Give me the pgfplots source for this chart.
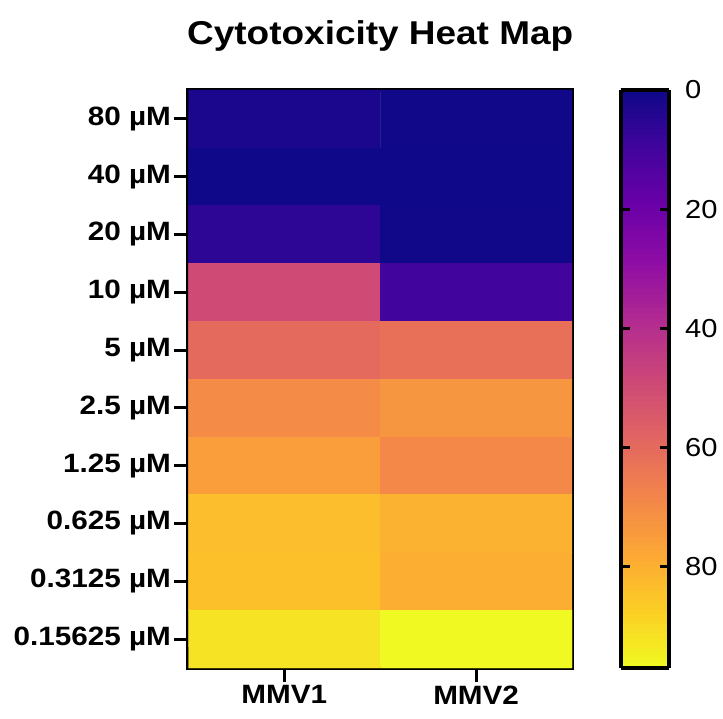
\documentclass[border=0pt]{standalone}
\usepackage{fontspec}
\setmainfont[FakeStretch=1.12]{Liberation Sans}
\usepackage{pgfplots}
\usepackage{pgfplotstable}
\pgfplotsset{compat=1.18}

% plasma colormap, 0 = dark blue, 1 = yellow
\pgfplotsset{colormap={plasma}{
  rgb255=(13,8,135) rgb255=(65,4,157) rgb255=(106,0,168) rgb255=(143,13,164)
  rgb255=(177,42,144) rgb255=(204,71,120) rgb255=(225,100,98) rgb255=(242,132,75)
  rgb255=(252,166,54) rgb255=(252,206,37) rgb255=(240,249,33)}}

% x: 0 = MMV1, 1 = MMV2; y: 0 = 80 uM ... 9 = 0.15625 uM
\pgfplotstableread{
x y v
0 0 2.5
1 0 0.8
0 1 0.3
1 1 0.3
0 2 6
1 2 0.5
0 3 50
1 3 9.7
0 4 60
1 4 62
0 5 70
1 5 73
0 6 75.5
1 6 69
0 7 83.5
1 7 80.5
0 8 84
1 8 79.5
0 9 92
1 9 97
}\cyto

\begin{document}
\begin{tikzpicture}
\useasboundingbox (0,0) rectangle (723pt,719pt);
\begin{axis}[
    at={(188.5pt,51pt)}, anchor=south west,
    scale only axis, width=383.5pt, height=578pt,
    xmin=-0.5, xmax=1.5, ymin=-0.5, ymax=9.5, y dir=reverse,
    xtick={0,1}, xticklabels={MMV1,MMV2},
    ytick={0,...,9},
    yticklabels={80 µM,40 µM,20 µM,10 µM,5 µM,2.5 µM,1.25 µM,0.625 µM,0.3125 µM,0.15625 µM},
    tick align=outside, xtick pos=bottom, ytick pos=left,
    major tick length=14pt,
    major tick style={black, line width=3pt},
    axis line style={line width=4pt},
    ticklabel style={font=\fontsize{26.5}{26.5}\selectfont\bfseries},
    title={Cytotoxicity Heat Map},
    title style={at={(0.5,1)}, anchor=base, yshift=39pt,
                 font=\fontsize{33}{33}\selectfont\bfseries},
    colormap name=plasma, point meta min=0, point meta max=97,
    colorbar sampled,
    colorbar style={
        at={(parent axis.north east)}, anchor=north west, xshift=40pt,
        width=48pt, y dir=reverse, samples=120, axis on top,
        axis lines=box,
        ytick={0,20,40,60,80},
        tick align=inside, yticklabel pos=right, ytick pos=both,
        major tick length=9pt,
        major tick style={black, line width=3pt},
        axis line style={line width=4pt},
        yticklabel style={font=\fontsize{26}{26}\selectfont,
                          /pgf/number format/assume math mode=true, xshift=13pt},
    },
]
\addplot[matrix plot*, mesh/cols=2, point meta=explicit] table[x=x, y=y, meta=v] {\cyto};
\end{axis}
\end{tikzpicture}
\end{document}
